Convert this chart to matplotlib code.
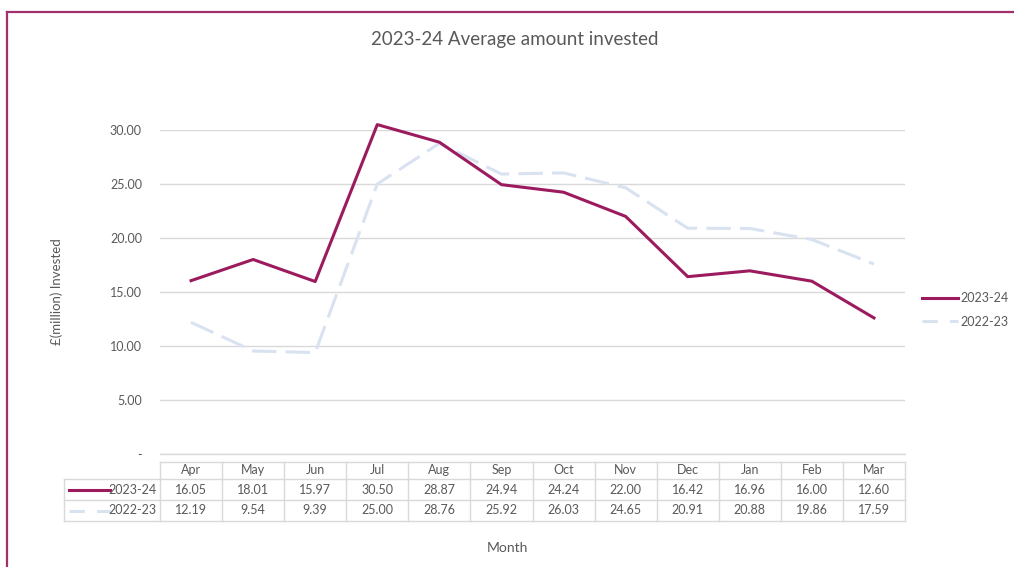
import matplotlib
matplotlib.use('Agg')
import matplotlib.pyplot as plt
import matplotlib.transforms as mtransforms
from matplotlib.lines import Line2D

plt.rcParams['font.family'] = ['Lato', 'DejaVu Sans']

months = ["Apr", "May", "Jun", "Jul", "Aug", "Sep", "Oct", "Nov", "Dec", "Jan", "Feb", "Mar"]
fy2324 = [16.05, 18.01, 15.97, 30.50, 28.87, 24.94, 24.24, 22.00, 16.42, 16.96, 16.00, 12.60]
fy2223 = [12.19, 9.54, 9.39, 25.00, 28.76, 25.92, 26.03, 24.65, 20.91, 20.88, 19.86, 17.59]
series_names = ["2023-24", "2022-23"]
yticks = [0, 5, 10, 15, 20, 25, 30]

purple = '#9B1B5E'
pale = '#D9E2F0'
grey_txt = '#595959'
grid_col = '#D9D9D9'

fig = plt.figure(figsize=(10.14, 5.67), dpi=100)
ax = fig.add_axes([160/1014, 1 - 454/567, 745/1014, 324/567])

x = list(range(len(months)))
ax.plot(x, fy2223, color=pale, lw=2.2, dashes=(8, 3), clip_on=False, zorder=3)
ax.plot(x, fy2324, color=purple, lw=2.2, clip_on=False, zorder=4)

ax.set_xlim(-0.5, len(months) - 0.5)
ax.set_ylim(0, 30)
ax.set_yticks(yticks)
ax.set_yticklabels(['-' if v == 0 else f'{v:.2f}' for v in yticks], color=grey_txt, fontsize=9)
ax.tick_params(axis='y', length=0, pad=13)
ax.set_xticks([])
ax.grid(axis='y', color=grid_col, lw=1)
ax.axhline(0, color=grid_col, lw=1, clip_on=False, zorder=1)
for s in ax.spines.values():
    s.set_visible(False)
ax.set_axisbelow(True)

ax.set_ylabel('£(million) Invested', color=grey_txt, fontsize=9.5, labelpad=34)
fig.text(507/1014, 1 - 548/567, 'Month', ha='center', va='center', color=grey_txt, fontsize=10)
fig.text(515/1014, 1 - 40/567, '2023-24 Average amount invested', ha='center', va='center',
         color=grey_txt, fontsize=13.5)

# data table under the chart (x in data units, y in axes units)
tr = mtransforms.blended_transform_factory(ax.transData, ax.transAxes)
def ya(px):
    return (454 - px) / 324
row_edges = [ya(462), ya(479), ya(500), ya(521)]
n = len(months)
lab_left = -0.5 - 96 / 62.08
kw = dict(transform=tr, clip_on=False, color=grid_col, lw=1)
# horizontal rules
ax.add_line(Line2D([-0.5, n - 0.5], [row_edges[0]] * 2, **kw))
for yy in row_edges[1:]:
    ax.add_line(Line2D([lab_left, n - 0.5], [yy] * 2, **kw))
# vertical rules
for i in range(n + 1):
    ax.add_line(Line2D([i - 0.5, i - 0.5], [row_edges[0], row_edges[3]], **kw))
ax.add_line(Line2D([lab_left, lab_left], [row_edges[1], row_edges[3]], **kw))

rows = [fy2324, fy2223]
for i, m in enumerate(months):
    ax.text(i, (row_edges[0] + row_edges[1]) / 2, m, transform=tr, ha='center', va='center',
            color=grey_txt, fontsize=9)
    for r, vals in enumerate(rows):
        ax.text(i, (row_edges[r + 1] + row_edges[r + 2]) / 2, f'{vals[i]:.2f}', transform=tr,
                ha='center', va='center', color=grey_txt, fontsize=9)

for r, (name, col, dash) in enumerate([(series_names[0], purple, None), (series_names[1], pale, (5, 4))]):
    yc = (row_edges[r + 1] + row_edges[r + 2]) / 2
    ax.text(-0.56, yc, name, transform=tr, ha='right', va='center', color=grey_txt, fontsize=9)
    ln = Line2D([-0.5 - 91 / 62.08, -0.5 - 50 / 62.08], [yc, yc], transform=tr,
                color=col, lw=2.2, clip_on=False)
    if dash:
        ln.set_dashes(dash)
    ax.add_line(ln)

# legend on the right
handles = [Line2D([], [], color=purple, lw=2.2),
           Line2D([], [], color=pale, lw=2.2, dashes=(5, 4))]
fig.legend(handles, series_names, loc='center left', bbox_to_anchor=(913/1014, 1 - 310/567),
           frameon=False, fontsize=9, handlelength=2.9, handletextpad=0.2, labelspacing=0.9,
           labelcolor=grey_txt, borderpad=0.2)

# outer frame
fig.add_artist(Line2D([6.5/1014, 6.5/1014], [0, 1 - 11.5/567], transform=fig.transFigure,
                      color='#A3306E', lw=1.6))
fig.add_artist(Line2D([6.5/1014, 1], [1 - 11.5/567, 1 - 11.5/567], transform=fig.transFigure,
                      color='#A3306E', lw=1.6))

fig.savefig('out.png', dpi=100)
